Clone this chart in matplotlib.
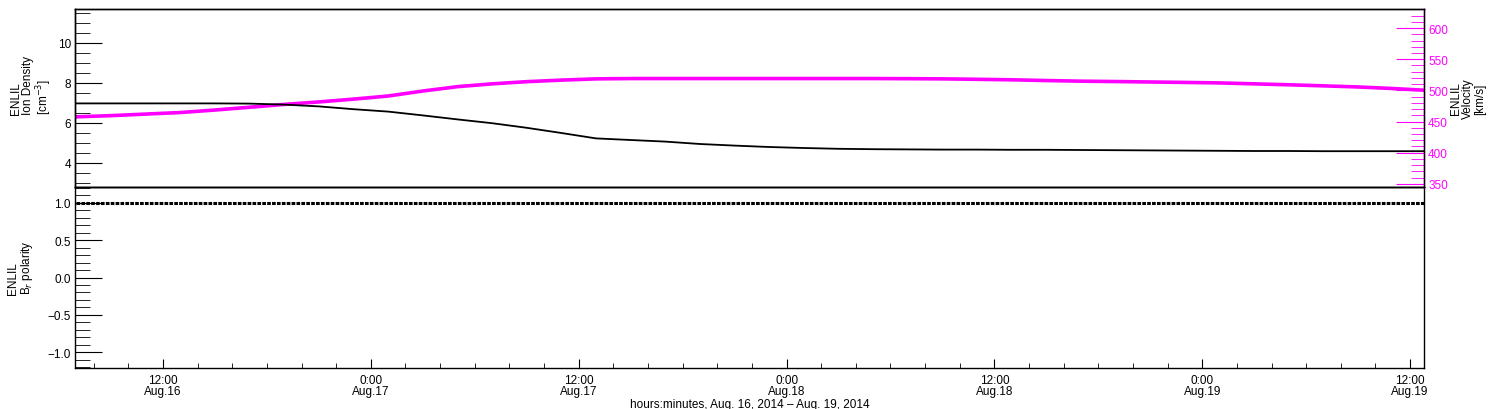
import matplotlib
matplotlib.use('Agg')
import matplotlib.pyplot as plt
from matplotlib.ticker import MultipleLocator, FixedLocator

plt.rcParams['font.family'] = ['Liberation Sans', 'DejaVu Sans']
plt.rcParams['axes.unicode_minus'] = True

# hours since Aug. 16, 2014 00:00
hours = [7, 9, 11, 13, 15, 17, 19, 21, 23, 25, 27, 29, 31, 33, 35, 37, 39, 41, 43, 45,
         47, 49, 51, 53, 55, 57, 59, 61, 63, 65, 67, 69, 71, 73, 75, 77, 79, 81, 83, 85]

# ENLIL ion density [cm^-3]
density = [6.98, 6.98, 6.98, 6.98, 6.98, 6.97, 6.92, 6.83, 6.69, 6.57,
           6.38, 6.18, 5.99, 5.76, 5.50, 5.23, 5.15, 5.07, 4.95, 4.87,
           4.80, 4.75, 4.71, 4.69, 4.68, 4.67, 4.67, 4.66, 4.66, 4.65,
           4.64, 4.63, 4.62, 4.61, 4.60, 4.60, 4.59, 4.59, 4.59, 4.59]

# ENLIL velocity [km/s]
velocity = [457.6, 459.5, 462.0, 464.5, 468.5, 473.0, 477.5, 481.5, 486.0, 491.0,
            499.0, 506.0, 510.5, 514.0, 516.5, 518.5, 519.0, 519.0, 519.0, 519.0,
            519.0, 519.0, 519.0, 519.0, 518.8, 518.5, 517.8, 517.0, 515.8, 514.8,
            514.2, 513.5, 512.8, 512.0, 510.5, 509.0, 507.3, 505.5, 503.0, 500.0]

# ENLIL Br polarity
polarity = [1.0] * len(hours)

tick_hours = [12, 24, 36, 48, 60, 72, 84]
tick_labels = ['12:00\nAug.16', '0:00\nAug.17', '12:00\nAug.17', '0:00\nAug.18',
               '12:00\nAug.18', '0:00\nAug.19', '12:00\nAug.19']

MAG = '#ff00ff'
fig = plt.figure(figsize=(15, 4.1), dpi=100)
left, width = 75 / 1500, 1349 / 1500
ax1 = fig.add_axes([left, 1 - 188 / 410, width, 178 / 410])
ax2 = fig.add_axes([left, 1 - 369 / 410, width, 181 / 410])
ax1r = ax1.twinx()

# top panel: density
ax1.plot(hours, density, color='black', lw=1.3)
ax1.set_xlim(6.92, 84.8)
ax1.set_ylim(2.8, 11.7)
ax1.yaxis.set_major_locator(MultipleLocator(2))
ax1.yaxis.set_minor_locator(MultipleLocator(0.5))
ax1.tick_params(axis='y', which='major', direction='in', length=19.5, labelsize=8.5, pad=3)
ax1.tick_params(axis='y', which='minor', direction='in', length=10.8)
ax1.tick_params(axis='y', which='both', right=False)
ax1.tick_params(axis='x', which='both', bottom=False, top=False, labelbottom=False)

# top panel: velocity (right axis)
ax1r.plot(hours, velocity, color=MAG, lw=2.6)
ax1r.set_ylim(345, 630.6)
ax1r.yaxis.set_major_locator(MultipleLocator(50))
ax1r.yaxis.set_minor_locator(MultipleLocator(10))
ax1r.tick_params(axis='y', which='major', direction='in', length=20, labelsize=8.5, pad=3,
                 colors=MAG)
ax1r.tick_params(axis='y', which='minor', direction='in', length=9.4, colors=MAG)
ax1r.tick_params(axis='y', which='both', left=False)
ax1r.spines['right'].set_color(MAG)
ax1.set_zorder(ax1r.get_zorder() + 1)
ax1.patch.set_visible(False)

# bottom panel: polarity
ax2.plot(hours, polarity, color='black', lw=2.2, ls=(0, (1.2, 0.4)))
ax2.set_xlim(6.92, 84.8)
ax2.set_ylim(-1.21, 1.21)
ax2.yaxis.set_major_locator(MultipleLocator(0.5))
ax2.yaxis.set_minor_locator(MultipleLocator(0.1))
ax2.yaxis.set_major_formatter(plt.FuncFormatter(lambda v, p: f'{v:.1f}'.replace('-', '\u2212')))
ax2.tick_params(axis='y', which='major', direction='in', length=19.5, labelsize=8.5, pad=3)
ax2.tick_params(axis='y', which='minor', direction='in', length=10.8)
ax2.tick_params(axis='y', which='both', right=False)
ax2.xaxis.set_major_locator(FixedLocator(tick_hours))
ax2.set_xticklabels(tick_labels, linespacing=0.9)
ax2.xaxis.set_minor_locator(MultipleLocator(2))
ax2.tick_params(axis='x', which='major', direction='in', length=6.5, labelsize=8.5, pad=4)
ax2.tick_params(axis='x', which='minor', direction='in', length=3.6)
ax2.tick_params(axis='x', which='both', top=False)

for ax in (ax1, ax2, ax1r):
    for s in ax.spines.values():
        s.set_linewidth(1.0)
ax1r.spines['right'].set_color(MAG)

ax2.set_xlabel('hours:minutes, Aug. 16, 2014 \u2013 Aug. 19, 2014', fontsize=8.5, labelpad=1)

fig.text(32 / 1500, 1 - 115 / 410, 'ENLIL\nIon Density\n[cm$^{-3}$]', rotation=90,
         ha='center', va='bottom', fontsize=8.5, multialignment='left', linespacing=1.0)
fig.text(1468 / 1500, 1 - 99 / 410, 'ENLIL\nVelocity\n[km/s]', rotation=90,
         ha='center', va='center', fontsize=8.5, multialignment='center', linespacing=1.0)
fig.text(21 / 1500, 1 - 295 / 410, 'ENLIL\nB$_r$ polarity', rotation=90,
         ha='center', va='bottom', fontsize=8.5, multialignment='left', linespacing=1.0)

fig.savefig('out.png', dpi=100)
